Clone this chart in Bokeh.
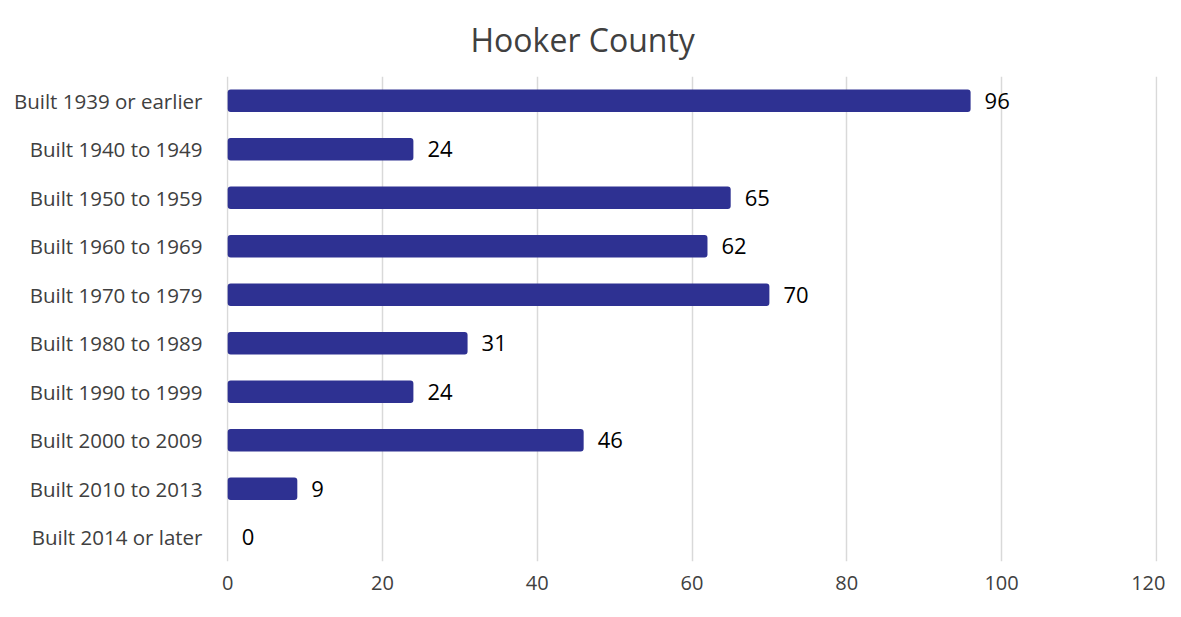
from bokeh.plotting import figure
from bokeh.models import ColumnDataSource, FactorRange, Range1d, LabelSet, FixedTicker
from bokeh.core.properties import value
from bokeh.embed import file_html
from bokeh.resources import INLINE

categories = ["Built 1939 or earlier", "Built 1940 to 1949", "Built 1950 to 1959",
              "Built 1960 to 1969", "Built 1970 to 1979", "Built 1980 to 1989",
              "Built 1990 to 1999", "Built 2000 to 2009", "Built 2010 to 2013",
              "Built 2014 or later"]
values = [96, 24, 65, 62, 70, 31, 24, 46, 9, 0]
x_ticks = [0, 20, 40, 60, 80, 100, 120]
title_text = "Hooker County"

FONT = "Open Sans"

src = ColumnDataSource(dict(cat=categories, val=values, lab=[str(v) for v in values]))

p = figure(width=1165, height=601, output_backend="svg", toolbar_location=None,
           y_range=FactorRange(*list(reversed(categories)), range_padding=0),
           x_range=Range1d(-0.15, 120.15),
           min_border_left=226, min_border_right=8, min_border_top=76, min_border_bottom=40)

p.title.text = title_text
p.title.align = "left"
p.title.offset = 244
p.title.standoff = 31
p.title.vertical_align = "bottom"
p.title.text_font = FONT
p.title.text_font_size = "32px"
p.title.text_font_style = "normal"
p.title.text_color = "#404040"

p.hbar(y="cat", right="val", left=0, height=0.46, source=src,
       fill_color="#2E3192", line_color=None, border_radius=3)

labels = LabelSet(x="val", y="cat", text="lab", source=src, x_offset=14,
                  text_baseline="middle", text_font=value(FONT), text_font_size="22px",
                  text_color="#000000")
p.add_layout(labels)

p.outline_line_color = None
p.ygrid.grid_line_color = None
p.xgrid.grid_line_color = "#D9D9D9"
p.xgrid.grid_line_width = 1.5
p.xaxis.ticker = FixedTicker(ticks=x_ticks)
for ax in (p.xaxis[0], p.yaxis[0]):
    ax.axis_line_color = None
    ax.major_tick_line_color = None
    ax.minor_tick_line_color = None
    ax.major_label_text_font = FONT
    ax.major_label_text_color = "#404040"
p.xaxis.major_label_text_font_size = "20px"
p.yaxis.major_label_text_font_size = "20.5px"
p.xaxis.major_label_standoff = 8
p.yaxis.major_label_standoff = 18

open("out.html", "w").write(file_html(p, INLINE))
